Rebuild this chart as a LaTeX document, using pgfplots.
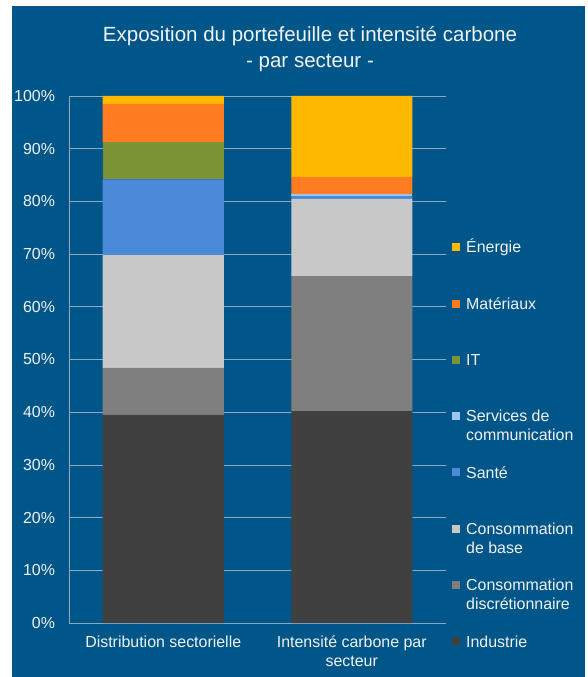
\documentclass[border=0pt]{standalone}
\usepackage{fontspec}
\setmainfont{Liberation Sans}
\usepackage{pgfplots}
\pgfplotsset{compat=1.18}

\definecolor{bgblue}{HTML}{005688}
\definecolor{gridc}{HTML}{8CA8C4}
\definecolor{txt}{HTML}{F2F2F2}
\definecolor{cEnergie}{HTML}{FFB800}
\definecolor{cMat}{HTML}{FF7C20}
\definecolor{cIT}{HTML}{7A9434}
\definecolor{cComm}{HTML}{9DC3F0}
\definecolor{cSante}{HTML}{4A8AD8}
\definecolor{cBase}{HTML}{C8C8C8}
\definecolor{cDisc}{HTML}{7F7F7F}
\definecolor{cInd}{HTML}{404040}

\begin{document}
\begin{tikzpicture}
% background (page is 588 x 677 bp, axis box lower left at origin)
\fill[white] (-69bp,-54bp) rectangle (519bp,623bp);
\fill[bgblue] (-57bp,-54bp) rectangle (516bp,617bp);

\node[align=center, text=txt, font=\fontsize{20.6}{26}\selectfont]
  at (241bp,574bp) {Exposition du portefeuille et intensité carbone\\- par secteur -};

\begin{axis}[
  scale only axis,
  width=377bp, height=527bp,
  ybar stacked,
  bar width=121bp,
  legend image code/.code={\fill[#1] (0bp,1.75bp) rectangle (8bp,9.75bp);},
  xmin=-0.5, xmax=1.5,
  ymin=0, ymax=100,
  xtick={0,1},
  xticklabels={Distribution sectorielle, Intensité carbone par\\secteur},
  ytick={0,10,...,100},
  yticklabel={\pgfmathprintnumber{\tick}\%},
  /pgf/number format/assume math mode=true,
  ymajorgrids,
  grid style={gridc, line width=0.8pt},
  axis lines*=left,
  axis line style={gridc, line width=0.8pt, -},
  major tick length=0pt,
  tick label style={text=txt, font=\fontsize{16}{19}\selectfont},
  xticklabel style={align=center, yshift=-9bp},
  yticklabel style={xshift=-10.5bp},
  reverse legend,
  legend style={
    at={(383bp,381.75bp)}, anchor=north west,
    draw=none, fill=none, inner sep=0pt,
    row sep=44.8bp, column sep=6bp,
    font=\fontsize{16}{19}\selectfont, text=txt,
    nodes={inner sep=0pt, text height=11.5bp, text depth=0pt, anchor=base west},
  },
  every axis plot/.append style={draw=none},
]
\addplot[fill=cInd]    coordinates {(0,39.5) (1,40.2)};
\addlegendentry{Industrie}
\addplot[fill=cDisc]   coordinates {(0,8.9) (1,25.6)};
\addlegendentry{\begin{tabular}[t]{@{}l@{}}Consommation\\discrétionnaire\end{tabular}}
\addplot[fill=cBase]   coordinates {(0,21.4) (1,14.7)};
\addlegendentry{\begin{tabular}[t]{@{}l@{}}Consommation\\de base\end{tabular}}
\addplot[fill=cSante]  coordinates {(0,14.4) (1,0.5)};
\addlegendentry{Santé}
\addplot[fill=cComm]   coordinates {(0,0) (1,0.4)};
\addlegendentry{\begin{tabular}[t]{@{}l@{}}Services de\\communication\end{tabular}}
\addplot[fill=cIT]     coordinates {(0,7.0) (1,0)};
\addlegendentry{IT}
\addplot[fill=cMat]    coordinates {(0,7.3) (1,3.2)};
\addlegendentry{Matériaux}
\addplot[fill=cEnergie] coordinates {(0,1.5) (1,15.4)};
\addlegendentry{Énergie}
\end{axis}

\pgfresetboundingbox
\path[use as bounding box] (-69bp,-54bp) rectangle (519bp,623bp);
\end{tikzpicture}
\end{document}
